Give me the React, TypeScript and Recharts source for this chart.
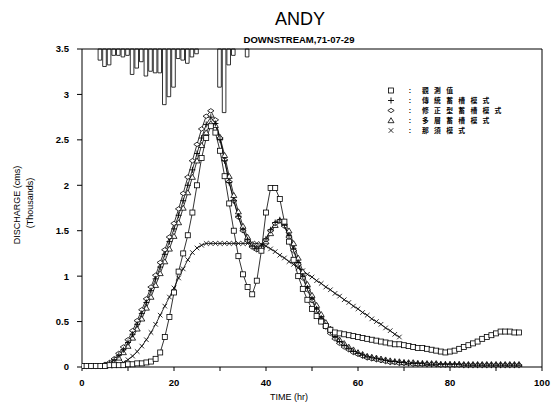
import React from 'react';
import { ComposedChart, Line, Bar, XAxis, YAxis, ReferenceLine } from 'recharts';

// hourly time axis (hr)
const hours = Array.from({ length: 96 }, (_, i) => i);

// discharge, thousands of cms
const observed = [
  0.01, 0.01, 0.01, 0.01, 0.01, 0.01, 0.02, 0.02, 0.02, 0.02,
  0.03, 0.03, 0.04, 0.04, 0.05, 0.06, 0.09, 0.16, 0.33, 0.55,
  0.82, 1.05, 1.25, 1.45, 1.7, 2.0, 2.3, 2.52, 2.65, 2.58,
  2.38, 2.1, 1.8, 1.5, 1.22, 1.02, 0.88, 0.8, 0.95, 1.28,
  1.7, 1.97, 1.97, 1.85, 1.6, 1.38, 1.18, 1.0, 0.86, 0.74,
  0.64, 0.56, 0.5, 0.45, 0.41, 0.38, 0.37, 0.36, 0.35, 0.34,
  0.33, 0.32, 0.31, 0.3, 0.29, 0.28, 0.27, 0.26, 0.25, 0.25,
  0.24, 0.23, 0.22, 0.21, 0.21, 0.2, 0.19, 0.18, 0.17, 0.16,
  0.17, 0.18, 0.2, 0.22, 0.24, 0.26, 0.28, 0.31, 0.33, 0.35,
  0.37, 0.39, 0.39, 0.39, 0.38, 0.38,
];

const traditional = [
  0.01, 0.01, 0.01, 0.01, 0.01, 0.02, 0.04, 0.08, 0.13, 0.19,
  0.27, 0.36, 0.47, 0.59, 0.71, 0.84, 0.97, 1.1, 1.24, 1.38,
  1.52, 1.67, 1.83, 2.0, 2.17, 2.35, 2.52, 2.67, 2.75, 2.68,
  2.5, 2.27, 2.03, 1.83, 1.66, 1.51, 1.4, 1.33, 1.3, 1.33,
  1.41, 1.51, 1.59, 1.62, 1.56, 1.45, 1.3, 1.15, 1.0, 0.87,
  0.75, 0.64, 0.54, 0.46, 0.39, 0.33, 0.28, 0.24, 0.2, 0.17,
  0.15, 0.13, 0.11, 0.1, 0.09, 0.08, 0.07, 0.06, 0.06, 0.05,
  0.05, 0.04, 0.04, 0.04, 0.04, 0.03, 0.03, 0.03, 0.03, 0.03,
  0.03, 0.03, 0.03, 0.02, 0.02, 0.02, 0.02, 0.02, 0.02, 0.02,
  0.02, 0.02, 0.02, 0.02, 0.02, 0.02,
];

const modified = [
  0.01, 0.01, 0.01, 0.01, 0.01, 0.03, 0.05, 0.09, 0.15, 0.22,
  0.3, 0.4, 0.51, 0.63, 0.75, 0.88, 1.01, 1.15, 1.29, 1.43,
  1.58, 1.74, 1.91, 2.09, 2.27, 2.45, 2.62, 2.76, 2.82, 2.72,
  2.52, 2.28, 2.04, 1.83, 1.65, 1.5, 1.39, 1.32, 1.29, 1.32,
  1.4, 1.5, 1.58, 1.61, 1.55, 1.43, 1.28, 1.13, 0.98, 0.85,
  0.73, 0.62, 0.52, 0.44, 0.37, 0.31, 0.26, 0.22, 0.19, 0.16,
  0.14, 0.12, 0.1, 0.09, 0.08, 0.07, 0.06, 0.05, 0.05, 0.04,
  0.04, 0.04, 0.03, 0.03, 0.03, 0.03, 0.03, 0.03, 0.02, 0.02,
  0.02, 0.02, 0.02, 0.02, 0.02, 0.02, 0.02, 0.02, 0.02, 0.02,
  0.02, 0.02, 0.02, 0.02, 0.02, 0.02,
];

const multiLayer = [
  0.01, 0.01, 0.01, 0.01, 0.01, 0.01, 0.03, 0.06, 0.1, 0.16,
  0.23, 0.32, 0.42, 0.53, 0.65, 0.77, 0.9, 1.03, 1.16, 1.3,
  1.44, 1.59, 1.75, 1.92, 2.09, 2.27, 2.44, 2.58, 2.68, 2.66,
  2.53, 2.33, 2.1, 1.89, 1.71, 1.55, 1.43, 1.35, 1.31, 1.32,
  1.38, 1.47, 1.56, 1.61, 1.59, 1.5, 1.36, 1.2, 1.05, 0.91,
  0.79, 0.68, 0.58, 0.49, 0.42, 0.36, 0.3, 0.26, 0.22, 0.19,
  0.16, 0.14, 0.12, 0.11, 0.1, 0.09, 0.08, 0.07, 0.06, 0.06,
  0.05, 0.05, 0.05, 0.04, 0.04, 0.04, 0.04, 0.04, 0.03, 0.03,
  0.03, 0.03, 0.03, 0.03, 0.03, 0.03, 0.03, 0.03, 0.03, 0.03,
  0.03, 0.03, 0.03, 0.03, 0.03, 0.03,
];

// stops at hr 69
const nash = [
  0.01, 0.01, 0.01, 0.01, 0.01, 0.01, 0.01, 0.02, 0.03, 0.05,
  0.08, 0.12, 0.17, 0.23, 0.3, 0.38, 0.47, 0.57, 0.67, 0.77,
  0.87, 0.98, 1.08, 1.18, 1.26, 1.31, 1.34, 1.36, 1.36, 1.36,
  1.36, 1.36, 1.36, 1.36, 1.36, 1.36, 1.36, 1.36, 1.36, 1.35,
  1.33, 1.3, 1.27, 1.23, 1.2, 1.16, 1.13, 1.09, 1.06, 1.02,
  0.99, 0.95, 0.92, 0.88, 0.85, 0.81, 0.78, 0.74, 0.71, 0.67,
  0.64, 0.6, 0.57, 0.53, 0.5, 0.47, 0.43, 0.4, 0.36, 0.33,
];

// hyetograph hung from the top (mm)
const rainHours = [4, 5, 6, 7, 8, 9, 10, 11, 12, 13, 14, 15, 16, 17, 18, 19, 20, 21, 22, 23, 24, 25, 30, 31, 32, 33, 36];
const rainDepth = [3.5, 5.5, 5, 2, 2, 2.5, 2, 8, 6, 4, 8.5, 7, 7.5, 7.5, 17.5, 15, 12, 3, 3.5, 4.5, 2.5, 1.5, 12, 20, 5, 2, 2.5];

const xTicks = [0, 10, 20, 30, 40, 50, 60, 70, 80, 90, 100];
const yTicks = [0, 0.5, 1, 1.5, 2, 2.5, 3, 3.5];

const legendItems = [
  { mark: 'square', label: '觀測值' },
  { mark: 'plus', label: '傳統蓄槽模式' },
  { mark: 'diamond', label: '修正型蓄槽模式' },
  { mark: 'triangle', label: '多層蓄槽模式' },
  { mark: 'cross', label: '那須模式' },
];

const chartData = hours.map((h, i) => {
  const r = rainHours.indexOf(h);
  return {
    hour: h,
    obs: observed[i],
    trad: traditional[i],
    mod: modified[i],
    multi: multiLayer[i],
    nash: i < nash.length ? nash[i] : null,
    rain: r >= 0 ? rainDepth[r] : null,
  };
});

const FONT = '"Liberation Sans", Arial, sans-serif';

const Mark = ({ kind, cx, cy }: { kind: string; cx: number; cy: number }) => {
  const s = 2.5;
  switch (kind) {
    case 'square':
      return <rect x={cx - s} y={cy - s} width={s * 2} height={s * 2} fill="#fff" stroke="#000" strokeWidth={0.8} />;
    case 'plus':
      return (
        <path d={`M${cx - 3},${cy}H${cx + 3}M${cx},${cy - 3}V${cy + 3}`} stroke="#000" strokeWidth={0.9} fill="none" />
      );
    case 'diamond':
      return (
        <path
          d={`M${cx - 3.2},${cy}L${cx},${cy - 2.2}L${cx + 3.2},${cy}L${cx},${cy + 2.2}Z`}
          fill="#fff"
          stroke="#000"
          strokeWidth={0.8}
        />
      );
    case 'triangle':
      return (
        <path d={`M${cx - 3},${cy + 2.2}L${cx},${cy - 2.8}L${cx + 3},${cy + 2.2}Z`} fill="#fff" stroke="#000" strokeWidth={0.8} />
      );
    default:
      return (
        <path
          d={`M${cx - 2.3},${cy - 2.3}L${cx + 2.3},${cy + 2.3}M${cx - 2.3},${cy + 2.3}L${cx + 2.3},${cy - 2.3}`}
          stroke="#000"
          strokeWidth={0.8}
          fill="none"
        />
      );
  }
};

const makeDot = (kind: string) => (p: any) => {
  if (p.cx == null || p.cy == null || p.value == null) return <g key={`${kind}-${p.index}`} />;
  return (
    <g key={`${kind}-${p.index}`}>
      <Mark kind={kind} cx={p.cx} cy={p.cy} />
    </g>
  );
};

const tickStyle = { fontSize: 9.5, fontWeight: 700, fill: '#000', fontFamily: FONT };

const App: React.FC = () => {
  return (
    <div style={{ position: 'absolute', left: 0, top: 0, width: 551, height: 409, background: '#fff', fontFamily: FONT, color: '#000' }}>
      <ComposedChart width={551} height={409} data={chartData} margin={{ top: 49, right: 9, bottom: 12, left: 42 }}>
        <XAxis
          type="number"
          dataKey="hour"
          domain={[0, 100]}
          ticks={xTicks}
          tickFormatter={(v: number) => (v % 20 === 0 ? String(v) : '')}
          height={30}
          tick={tickStyle}
          tickSize={4}
          tickMargin={8}
          stroke="#000"
          allowDataOverflow
        />
        <YAxis
          yAxisId="q"
          domain={[0, 3.5]}
          ticks={yTicks}
          width={40}
          tick={tickStyle}
          tickSize={5}
          tickMargin={8}
          stroke="#000"
          interval={0}
        />
        <YAxis yAxisId="rain" orientation="right" reversed domain={[0, 100]} hide />
        <ReferenceLine yAxisId="q" y={3.5} stroke="#000" strokeWidth={1} />
        <ReferenceLine yAxisId="q" x={100} stroke="#000" strokeWidth={1} />
        <Bar yAxisId="rain" dataKey="rain" barSize={3.6} fill="#fff" stroke="#000" strokeWidth={0.8} isAnimationActive={false} />
        <Line yAxisId="q" type="linear" dataKey="nash" stroke="#000" strokeWidth={0.8} dot={makeDot('cross')} activeDot={false} isAnimationActive={false} />
        <Line yAxisId="q" type="linear" dataKey="multi" stroke="#000" strokeWidth={0.8} dot={makeDot('triangle')} activeDot={false} isAnimationActive={false} />
        <Line yAxisId="q" type="linear" dataKey="mod" stroke="#000" strokeWidth={0.8} dot={makeDot('diamond')} activeDot={false} isAnimationActive={false} />
        <Line yAxisId="q" type="linear" dataKey="trad" stroke="#000" strokeWidth={0.8} dot={makeDot('plus')} activeDot={false} isAnimationActive={false} />
        <Line yAxisId="q" type="linear" dataKey="obs" stroke="#000" strokeWidth={0.8} dot={makeDot('square')} activeDot={false} isAnimationActive={false} />
      </ComposedChart>

      <div style={{ position: 'absolute', left: 300, top: 9, transform: 'translateX(-50%)', fontSize: 18, whiteSpace: 'nowrap' }}>ANDY</div>
      <div
        style={{ position: 'absolute', left: 299, top: 34, transform: 'translateX(-50%)', fontSize: 9.5, fontWeight: 700, whiteSpace: 'nowrap' }}
      >
        DOWNSTREAM,71-07-29
      </div>

      <div
        style={{
          position: 'absolute',
          left: 17,
          top: 205,
          transform: 'translate(-50%, -50%) rotate(-90deg)',
          fontSize: 9,
          whiteSpace: 'nowrap',
        }}
      >
        DISCHARGE (cms)
      </div>
      <div
        style={{
          position: 'absolute',
          left: 30,
          top: 203,
          transform: 'translate(-50%, -50%) rotate(-90deg)',
          fontSize: 9,
          whiteSpace: 'nowrap',
        }}
      >
        (Thousands)
      </div>
      <div style={{ position: 'absolute', left: 289, top: 392, transform: 'translateX(-50%)', fontSize: 9, whiteSpace: 'nowrap' }}>
        TIME (hr)
      </div>

      <div style={{ position: 'absolute', left: 384, top: 86, width: 160 }}>
        {legendItems.map((it) => (
          <div
            key={it.mark}
            style={{ display: 'flex', alignItems: 'center', height: 9.9, lineHeight: '9.9px', fontSize: 7, fontWeight: 700, whiteSpace: 'nowrap' }}
          >
            <svg width={14} height={9} style={{ flex: 'none' }}>
              <Mark kind={it.mark} cx={7} cy={4.5} />
            </svg>
            <span style={{ width: 24, textAlign: 'center', flex: 'none' }}>:</span>
            <span style={{ letterSpacing: 5.3, fontSize: 6.8, fontFamily: '"Noto Sans CJK TC", sans-serif', flex: 'none' }}>{it.label}</span>
          </div>
        ))}
      </div>
    </div>
  );
};

export default App;
